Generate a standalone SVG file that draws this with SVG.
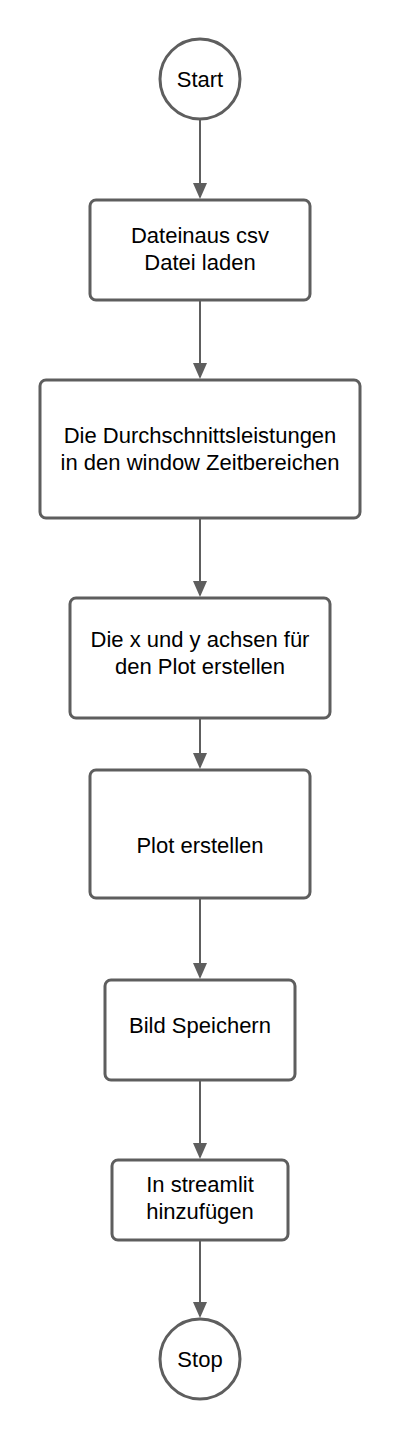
<svg xmlns="http://www.w3.org/2000/svg" width="400" height="1440" viewBox="0 0 400 1440">
<style>
.s{fill:#fff;stroke:#5e5e5e;stroke-width:3}
.t{font-family:"Liberation Sans",Arial,sans-serif;font-size:22px;fill:#000;text-anchor:middle}
.c{stroke:#5e5e5e;stroke-width:2;fill:none}
</style>
<defs>
<marker id="a" markerWidth="16" markerHeight="14" refX="14" refY="7" orient="auto" markerUnits="userSpaceOnUse" viewBox="0 0 16 14">
<path d="M0,0 L16,7 L0,14 z" fill="#5e5e5e"/>
</marker>
</defs>
<rect width="400" height="1440" fill="#fff"/>
<g id="connectors">
<line class="c" x1="200" y1="119" x2="200" y2="197" marker-end="url(#a)"/>
<line class="c" x1="200" y1="301" x2="200" y2="377" marker-end="url(#a)"/>
<line class="c" x1="200" y1="519" x2="200" y2="595" marker-end="url(#a)"/>
<line class="c" x1="200" y1="719" x2="200" y2="767" marker-end="url(#a)"/>
<line class="c" x1="200" y1="899" x2="200" y2="977" marker-end="url(#a)"/>
<line class="c" x1="200" y1="1081" x2="200" y2="1157" marker-end="url(#a)"/>
<line class="c" x1="200" y1="1241" x2="200" y2="1316" marker-end="url(#a)"/>
</g>
<g id="start">
<circle class="s" cx="200" cy="79" r="40"/>
<text class="t" x="200" y="87">Start</text>
</g>
<g id="n1">
<rect class="s" x="90" y="200" width="220" height="100" rx="6"/>
<text class="t" x="200" y="243">Dateinaus csv</text>
<text class="t" x="200" y="270">Datei laden</text>
</g>
<g id="n2">
<rect class="s" x="40" y="380" width="320" height="138" rx="6"/>
<text class="t" x="200" y="443">Die Durchschnittsleistungen</text>
<text class="t" x="200" y="470">in den window Zeitbereichen</text>
</g>
<g id="n3">
<rect class="s" x="70" y="598" width="260" height="120" rx="6"/>
<text class="t" x="200" y="647">Die x und y achsen für</text>
<text class="t" x="200" y="674">den Plot erstellen</text>
</g>
<g id="n4">
<rect class="s" x="90" y="770" width="220" height="128" rx="6"/>
<text class="t" x="200" y="853">Plot erstellen</text>
</g>
<g id="n5">
<rect class="s" x="105" y="980" width="190" height="100" rx="6"/>
<text class="t" x="200" y="1033">Bild Speichern</text>
</g>
<g id="n6">
<rect class="s" x="112" y="1160" width="176" height="80" rx="6"/>
<text class="t" x="200" y="1192">In streamlit</text>
<text class="t" x="200" y="1219">hinzufügen</text>
</g>
<g id="stop">
<circle class="s" cx="200" cy="1359" r="40"/>
<text class="t" x="200" y="1367">Stop</text>
</g>
</svg>
